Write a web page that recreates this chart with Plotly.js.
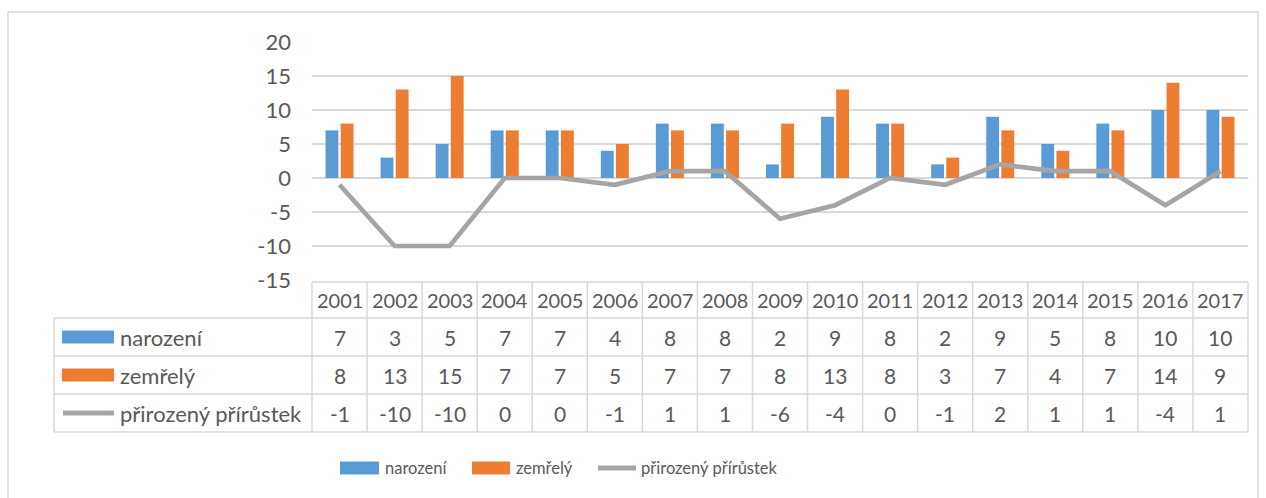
<!DOCTYPE html>
<html>
<head>
<meta charset="utf-8">
<script src="https://cdn.plot.ly/plotly-3.0.1.min.js"></script>
<style>html,body{margin:0;padding:0;background:#fff;}#chart{width:1266px;height:498px;}</style>
</head>
<body>
<div id="chart"></div>
<script>
const years = ["2001","2002","2003","2004","2005","2006","2007","2008","2009","2010","2011","2012","2013","2014","2015","2016","2017"];
const narozeni = [7,3,5,7,7,4,8,8,2,9,8,2,9,5,8,10,10];
const zemrely = [8,13,15,7,7,5,7,7,8,13,8,3,7,4,7,14,9];
const prirustek = [-1,-10,-10,0,0,-1,1,1,-6,-4,0,-1,2,1,1,-4,1];
const seriesNames = ["narození","zemřelý","přirozený přírůstek"];
const yTickVals = [-15,-10,-5,0,5,10,15,20];
const yTickText = ["-15","-10","-5","0","5","10","15","20"];
const colors = ["#5B9BD5","#ED7D31","#A5A5A5"];

const W = 1266, H = 498, L = 312, R = 18, T = 42, B = 218;
const PW = W - L - R, PH = H - T - B;
const px = x => (x - L) / PW;
const py = y => (H - B - y) / PH;
const FONT = "Lato, 'Open Sans', sans-serif";
const TXT = "#595959";
const GRID = "#D9D9D9";
const FSH = 20;   // header years
const FSN = 21;   // cell numbers
const FSL = 22;   // labels / ticks
const FSG = 16.5; // bottom legend

const traces = [
  {type:"bar", name:seriesNames[0], x:years, y:narozeni, marker:{color:colors[0]}, showlegend:false},
  {type:"bar", name:seriesNames[1], x:years, y:zemrely, marker:{color:colors[1]}, showlegend:false},
  {type:"scatter", mode:"lines", name:seriesNames[2], x:years, y:prirustek, line:{color:colors[2], width:4.7}, showlegend:false}
];

const shapes = [];
const annotations = [];
const line = (x0,y0,x1,y1) => shapes.push({type:"line", xref:"paper", yref:"paper", x0, y0, x1, y1, line:{color:GRID, width:1.5}, layer:"above"});

// chart border
shapes.push({type:"rect", xref:"paper", yref:"paper", x0:px(8), x1:px(1258), y0:py(12), y1:py(505), line:{color:GRID, width:1.5}, fillcolor:"rgba(0,0,0,0)"});

// table geometry (pixels)
const rowY = [282, 318, 356, 394, 432];
const leftX = 54;
line(px(L), py(rowY[0]), px(W - R), py(rowY[0]));
for (let i = 1; i < rowY.length; i++) line(px(leftX), py(rowY[i]), px(W - R), py(rowY[i]));
line(px(leftX), py(rowY[1]), px(leftX), py(rowY[4]));
for (let k = 0; k <= years.length; k++) {
  const xx = px(L + k * PW / years.length);
  line(xx, py(rowY[0]), xx, py(rowY[4]));
}
const rows = [narozeni, zemrely, prirustek];
years.forEach((yr, i) => {
  const cx = (i + 0.5) / years.length;
  annotations.push({xref:"paper", yref:"paper", x:cx, y:py((rowY[0]+rowY[1])/2), text:yr, showarrow:false, font:{family:FONT, size:FSH, color:TXT}, xanchor:"center", yanchor:"middle"});
  rows.forEach((arr, r) => {
    annotations.push({xref:"paper", yref:"paper", x:cx, y:py((rowY[r+1]+rowY[r+2])/2), text:String(arr[i]), showarrow:false, font:{family:FONT, size:FSN, color:TXT}, xanchor:"center", yanchor:"middle"});
  });
});
rows.forEach((arr, r) => {
  const cy = (rowY[r+1]+rowY[r+2])/2;
  if (r < 2) {
    shapes.push({type:"rect", xref:"paper", yref:"paper", x0:px(62), x1:px(114), y0:py(cy-6.5), y1:py(cy+6.5), fillcolor:colors[r], line:{width:0}, layer:"above"});
  } else {
    shapes.push({type:"line", xref:"paper", yref:"paper", x0:px(63), x1:px(114), y0:py(cy), y1:py(cy), line:{color:colors[2], width:5}, layer:"above"});
  }
  annotations.push({xref:"paper", yref:"paper", x:px(118), y:py(cy), text:seriesNames[r], showarrow:false, font:{family:FONT, size:FSL, color:TXT}, xanchor:"left", yanchor:"middle"});
});
// bottom legend
const legY = 468;
const legItems = [[340,379,383],[472,510,514],[596,638,639]];
legItems.forEach((it, r) => {
  if (r < 2) {
    shapes.push({type:"rect", xref:"paper", yref:"paper", x0:px(it[0]), x1:px(it[1]), y0:py(legY-6.5), y1:py(legY+6.5), fillcolor:colors[r], line:{width:0}, layer:"above"});
  } else {
    shapes.push({type:"line", xref:"paper", yref:"paper", x0:px(it[0]+2), x1:px(it[1]-2), y0:py(legY), y1:py(legY), line:{color:colors[2], width:5}, layer:"above"});
  }
  annotations.push({xref:"paper", yref:"paper", x:px(it[2]), y:py(legY), text:seriesNames[r], showarrow:false, font:{family:FONT, size:FSG, color:TXT}, xanchor:"left", yanchor:"middle"});
});

const layout = {
  width:W, height:H,
  margin:{l:L, r:R, t:T, b:B, pad:0},
  paper_bgcolor:"#fff", plot_bgcolor:"#fff",
  font:{family:FONT, color:TXT, size:FSN},
  barmode:"group", bargap:0.45, bargroupgap:0.15,
  showlegend:false,
  xaxis:{type:"category", range:[-0.5, years.length-0.5], showticklabels:false, showgrid:false, zeroline:false, showline:false, ticks:"", fixedrange:true},
  yaxis:{range:[-15,20], tickmode:"array", tickvals:yTickVals, ticktext:yTickText, showgrid:true, gridcolor:GRID, gridwidth:1.5, zeroline:false, showline:false, ticks:"", ticklabelstandoff:20, tickfont:{family:FONT, size:FSL, color:TXT}, fixedrange:true},
  shapes, annotations
};
Plotly.newPlot("chart", traces, layout, {displayModeBar:false, staticPlot:true});
</script>
</body>
</html>
